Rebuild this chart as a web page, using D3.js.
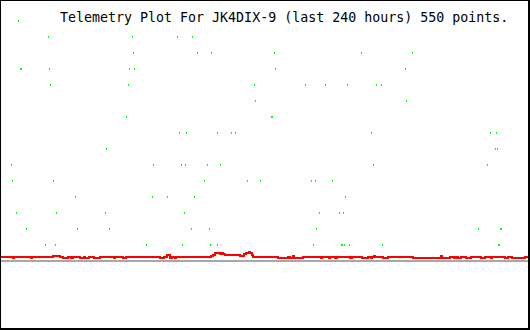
<!DOCTYPE html>
<html>
<head>
<meta charset="utf-8">
<script src="https://cdn.jsdelivr.net/npm/d3@7"></script>
<style>
  html, body { margin: 0; padding: 0; background: #fff; }
  svg { display: block; }
</style>
</head>
<body>
<svg id="chart" width="530" height="330"></svg>
<script>
// ---- Data ----
const titleText = "Telemetry Plot For JK4DIX-9 (last 240 hours) 550 points.";

// Green telemetry samples: hour (0..240) and discrete level (1..15)
const greenHours = [
  7.7, 224.1,
  21.4, 59.5, 80.0, 86.8,
  60.0, 89.1, 95.5, 124.1, 163.6, 186.8,
  8.6, 9.1, 21.8, 58.2, 60.5, 124.5, 183.6,
  22.3, 57.7, 115.0, 138.2, 147.3, 157.3, 170.5, 172.7,
  115.5, 184.1,
  56.8, 122.7, 123.2,
  80.9, 84.1, 98.2, 104.5, 106.4, 168.2, 222.3, 225.0,
  47.7, 224.5, 225.5,
  4.5, 69.1, 81.8, 83.6, 93.6, 99.5, 169.1, 220.9,
  5.0, 23.6, 92.3, 111.8, 117.7, 140.9, 142.7, 150.5,
  33.6, 68.6, 75.5, 87.7, 156.4,
  6.8, 25.0, 47.3, 83.2, 144.5, 153.6, 155.5,
  11.4, 34.5, 49.1, 86.4, 94.5, 143.2, 216.8, 226.8, 227.3,
  20.0, 24.5, 65.9, 82.3, 95.0, 98.2, 141.8, 154.5, 155.0, 155.9, 158.2, 173.2, 225.9, 226.4
];
const greenLevels = [
  15, 15,
  14, 14, 14, 14,
  13, 13, 13, 13, 13, 13,
  12, 12, 12, 12, 12, 12, 12,
  11, 11, 11, 11, 11, 11, 11, 11,
  10, 10,
  9, 9, 9,
  8, 8, 8, 8, 8, 8, 8, 8,
  7, 7, 7,
  6, 6, 6, 6, 6, 6, 6, 6,
  5, 5, 5, 5, 5, 5, 5, 5,
  4, 4, 4, 4, 4,
  3, 3, 3, 3, 3, 3, 3,
  2, 2, 2, 2, 2, 2, 2, 2, 2,
  1, 1, 1, 1, 1, 1, 1, 1, 1, 1, 1, 1, 1, 1
];

// Red telemetry trace: change points (hour) and value held until next point
const redHours = [
  0, 5.45, 5.9, 13.6, 14.1, 23.6, 26.8, 28.2, 30.5, 31.8, 32.7, 35.9, 37.7, 38.2, 40.0,
  42.3, 45.0, 51.4, 51.8, 55.5, 56.8, 72.3, 74.1, 75.5, 76.8, 77.7, 79.1, 79.5,
  95.5, 96.4, 97.3, 97.7, 98.6, 99.5, 100.5, 100.9, 101.8, 108.6, 110.5, 111.4, 111.8,
  112.7, 113.2, 114.1, 114.5,
  125.9, 130.5, 131.4, 132.7, 133.2, 137.3, 145.5, 145.9, 149.1, 149.5, 151.8, 152.7,
  158.6, 159.5, 164.1, 166.8, 168.2, 168.6, 169.5, 170.0, 173.6, 175.9, 187.3, 200.0,
  200.5, 204.1, 205.9, 206.8, 207.7, 209.1, 211.4, 213.6, 218.2, 220.0, 222.7, 223.2,
  229.1, 230.5, 232.3, 238.2, 240
];
const redValues = [
  0.25, 0.19, 0.25, 0.19, 0.25, 0.31, 0.25, 0.19, 0.25, 0.19, 0.25, 0.19, 0.25, 0.19, 0.25,
  0.19, 0.25, 0.19, 0.25, 0.19, 0.25, 0.19, 0.25, 0.36, 0.19, 0.25, 0.19, 0.25,
  0.31, 0.38, 0.47, 0.53, 0.47, 0.44, 0.47, 0.41, 0.38, 0.34, 0.41, 0.47, 0.53,
  0.56, 0.47, 0.38, 0.25,
  0.19, 0.25, 0.19, 0.31, 0.19, 0.25, 0.19, 0.25, 0.19, 0.25, 0.19, 0.25,
  0.19, 0.25, 0.19, 0.25, 0.19, 0.25, 0.31, 0.25, 0.19, 0.25, 0.19, 0.31,
  0.19, 0.25, 0.19, 0.25, 0.19, 0.25, 0.19, 0.25, 0.19, 0.25, 0.19, 0.25,
  0.19, 0.25, 0.19, 0.25, 0.25
];

// ---- Drawing ----
const W = 530, H = 330;
const svg = d3.select("#chart");

const x = d3.scaleLinear().domain([0, 240]).range([1, 529]);
const y = d3.scaleLinear().domain([0, 16]).range([261, 5]);

svg.append("rect").attr("x", 0).attr("y", 0).attr("width", W).attr("height", H).attr("fill", "#fff");

// Green points
const greenData = greenHours.map((h, i) => ({ h, v: greenLevels[i] }));
svg.append("g").attr("shape-rendering", "crispEdges")
  .selectAll("rect").data(greenData).join("rect")
  .attr("x", d => Math.round(x(d.h)))
  .attr("y", d => Math.round(y(d.v)) - 1)
  .attr("width", 1)
  .attr("height", 2)
  .attr("fill", "#00ff00");

// Baseline (zero)
svg.append("line")
  .attr("x1", x(0)).attr("x2", x(240) - 1)
  .attr("y1", y(0)).attr("y2", y(0))
  .attr("stroke", "#a8a8a8").attr("stroke-width", 2)
  .attr("shape-rendering", "crispEdges");

// Red trace
const redData = redHours.map((h, i) => ({ h, v: redValues[i] }));
const line = d3.line()
  .x(d => Math.round(x(d.h)))
  .y(d => Math.round(y(d.v)))
  .curve(d3.curveStepAfter);
svg.append("path")
  .datum(redData)
  .attr("d", line)
  .attr("fill", "none")
  .attr("stroke", "#ff0000")
  .attr("stroke-width", 2)
  .attr("shape-rendering", "crispEdges");

// Title
svg.append("text")
  .attr("x", 60).attr("y", 22)
  .attr("font-family", "'DejaVu Sans Mono', monospace")
  .attr("font-size", 13.3)
  .attr("fill", "#000")
  .text(titleText);

// Frame
svg.append("rect").attr("x", 0).attr("y", 0).attr("width", 1).attr("height", H).attr("fill", "#000");
svg.append("rect").attr("x", 0).attr("y", 0).attr("width", W).attr("height", 1).attr("fill", "#000");
svg.append("rect").attr("x", W - 2).attr("y", 0).attr("width", 2).attr("height", H).attr("fill", "#000");
svg.append("rect").attr("x", 0).attr("y", H - 2).attr("width", W).attr("height", 2).attr("fill", "#000");
</script>
</body>
</html>
